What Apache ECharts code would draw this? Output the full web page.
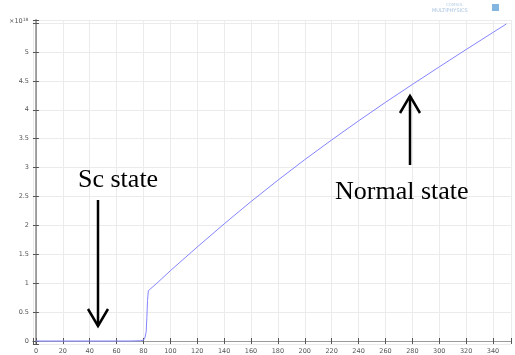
<!DOCTYPE html>
<html>
<head>
<meta charset="utf-8">
<script src="https://cdn.jsdelivr.net/npm/echarts@6/dist/echarts.min.js"></script>
<style>html,body{margin:0;padding:0;background:#fff}#c{width:515px;height:355px}</style>
</head>
<body>
<div id="c"></div>
<script>
// x values (unitless) and y values (×10^18)
const xs = [0, 10, 20, 30, 40, 50, 60, 70, 78, 80, 81, 82, 82.5, 83, 83.6, 90, 100, 120, 140, 160, 180, 200, 220, 240, 260, 280, 300, 320, 340, 350];
const ys = [0, 0, 0, 0, 0, 0, 0, 0, 0.005, 0.015, 0.05, 0.16, 0.4, 0.7, 0.87, 1.0, 1.216, 1.626, 2.026, 2.412, 2.782, 3.138, 3.478, 3.808, 4.128, 4.438, 4.742, 5.042, 5.338, 5.485];
const xTickLabels = ['0','20','40','60','80','100','120','140','160','180','200','220','240','260','280','300','320','340'];
const yTickLabels = ['0','0.5','1','1.5','2','2.5','3','3.5','4','4.5','5'];

const data = xs.map((x, i) => [x, ys[i]]);
const near = (v, step) => Math.abs(v / step - Math.round(v / step)) < 1e-6;

const chart = echarts.init(document.getElementById('c'), null, {renderer: 'canvas'});
const labelFont = {fontFamily: 'DejaVu Sans', fontSize: 6.5, color: '#555'};
const xMin = -2.2, xMax = 353.4, yMin = -0.052, yMax = 5.553;
const common = {
  axisLine: {show: true, lineStyle: {color: '#9a9a9a', width: 1}},
  axisTick: {show: true, inside: true, length: 3, lineStyle: {color: '#555', width: 1}},
  splitLine: {show: false}
};
chart.setOption({
  animation: false,
  grid: {left: 33, right: 4, top: 20, bottom: 11, containLabel: false},
  xAxis: [
    Object.assign({}, common, {
      type: 'value', min: xMin, max: xMax, splitNumber: 18, position: 'bottom',
      axisLabel: Object.assign({margin: 4, formatter: v => (near(v, 20) && xTickLabels.includes(String(Math.round(v)))) ? String(Math.round(v)) : ''}, labelFont),
      splitLine: {show: true, lineStyle: {color: '#ebebeb', width: 1}}
    }),
    Object.assign({}, common, {
      type: 'value', min: xMin, max: xMax, splitNumber: 18, position: 'top',
      axisLabel: {show: false}
    })
  ],
  yAxis: [
    Object.assign({}, common, {
      type: 'value', min: yMin, max: yMax, splitNumber: 11, position: 'left',
      axisLine: {show: true, lineStyle: {color: '#a8a8a8', width: 2}},
      axisLabel: Object.assign({margin: 4, formatter: v => {
        if (!near(v, 0.5)) return '';
        const s = String(Math.round(v * 10) / 10);
        return yTickLabels.includes(s) ? s : '';
      }}, labelFont),
      splitLine: {show: true, lineStyle: {color: '#ebebeb', width: 1}}
    }),
    Object.assign({}, common, {
      type: 'value', min: yMin, max: yMax, splitNumber: 11, position: 'right',
      axisLabel: {show: false}
    })
  ],
  series: [{
    type: 'line', data: data, showSymbol: false, symbol: 'none',
    lineStyle: {color: '#8484ff', width: 1}, smooth: false, z: 5
  }],
  graphic: [
    {type: 'text', left: 9, top: 17, style: {
      text: '{a|×10}{b|18}', rich: {a: {fontSize: 6.5, fontFamily: 'DejaVu Sans', fill: '#555'}, b: {fontSize: 4.5, fontFamily: 'DejaVu Sans', fill: '#555', verticalAlign: 'top', padding: [0,0,4,0]}}
    }},
    {type: 'text', left: 446, top: 3, style: {text: 'COMSOL', fontSize: 4, fontFamily: 'DejaVu Sans', fill: '#b8cfe6'}},
    {type: 'text', left: 432, top: 8, style: {text: 'MULTIPHYSICS', fontSize: 5, fontFamily: 'DejaVu Sans', fill: '#a9c3e0'}},
    {type: 'rect', shape: {x: 492, y: 4, width: 7, height: 7}, style: {fill: '#5b9bd5', opacity: 0.75}},
    // Sc state annotation
    {type: 'text', x: 78, y: 167, style: {text: 'Sc state', font: '26px "Liberation Serif"', fill: '#000'}, z: 10},
    {type: 'line', shape: {x1: 98, y1: 200, x2: 98, y2: 326}, style: {stroke: '#000', lineWidth: 2.5}, z: 10},
    {type: 'polyline', shape: {points: [[88, 309], [98, 326], [108, 309]]}, style: {stroke: '#000', lineWidth: 2.5, fill: null}, z: 10},
    // Normal state annotation
    {type: 'text', x: 335, y: 179, style: {text: 'Normal state', font: '26px "Liberation Serif"', fill: '#000'}, z: 10},
    {type: 'line', shape: {x1: 410, y1: 165, x2: 410, y2: 96}, style: {stroke: '#000', lineWidth: 2.5}, z: 10},
    {type: 'polyline', shape: {points: [[400, 113], [410, 96], [420, 113]]}, style: {stroke: '#000', lineWidth: 2.5, fill: null}, z: 10}
  ]
});
</script>
</body>
</html>
